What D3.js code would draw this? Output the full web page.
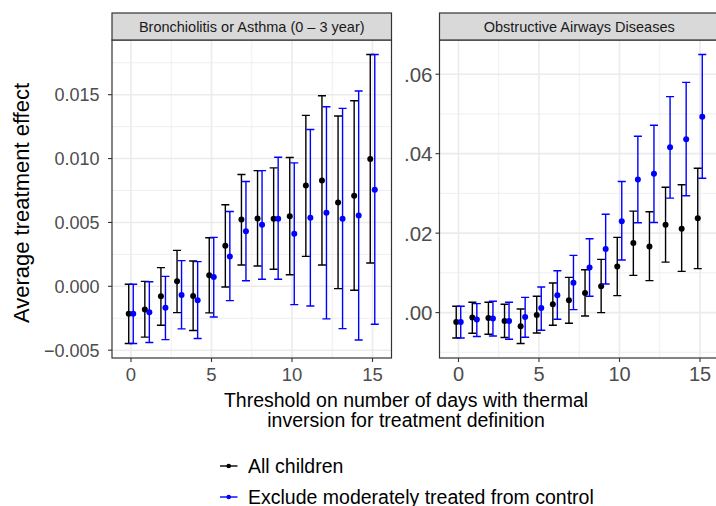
<!DOCTYPE html>
<html>
<head>
<meta charset="utf-8">
<script src="https://cdn.jsdelivr.net/npm/d3@7"></script>
<style>
  html, body { margin: 0; padding: 0; background: #fff; }
  svg { display: block; }
  text { font-family: "Liberation Sans", Arial, Helvetica, sans-serif; }
</style>
</head>
<body>
<svg id="chart" width="716" height="506"></svg>
<script>
// ---------------- data ----------------
const thresholds = [0,1,2,3,4,5,6,7,8,9,10,11,12,13,14,15];
const seriesNames = ["All children", "Exclude moderately treated from control"];
const seriesColors = ["#000000", "#0000FF"];
const panelTitles = ["Bronchiolitis or Asthma (0 \u2013 3 year)", "Obstructive Airways Diseases"];

// Bronchiolitis or Asthma (0-3 year)
const bronchAllEst  = [-0.00214,-0.00182,-0.00078,0.00039,-0.00076,0.00086,0.00318,0.00523,0.00531,0.00529,0.00549,0.00789,0.00828,0.00656,0.00708,0.00997];
const bronchAllLo   = [-0.00448,-0.00398,-0.00305,-0.00206,-0.00346,-0.00208,-0.00005,0.00167,0.00159,0.00133,0.00091,0.00234,0.00167,-0.00018,-0.00031,0.00182];
const bronchAllHi   = [0.00016,0.00039,0.00146,0.00281,0.00198,0.00380,0.00638,0.00875,0.00906,0.00927,0.01008,0.01338,0.01492,0.01333,0.01453,0.01815];
const bronchExclEst = [-0.00214,-0.00203,-0.00167,-0.00068,-0.00109,0.00073,0.00234,0.00432,0.00482,0.00529,0.00412,0.00536,0.00576,0.00529,0.00555,0.00755];
const bronchExclLo  = [-0.00448,-0.00440,-0.00417,-0.00333,-0.00409,-0.00240,-0.00112,0.00044,0.00055,0.00055,-0.00143,-0.00154,-0.00255,-0.00331,-0.00420,-0.00297];
const bronchExclHi  = [0.00016,0.00036,0.00078,0.00201,0.00193,0.00383,0.00586,0.00820,0.00906,0.01010,0.00966,0.01227,0.01406,0.01393,0.01529,0.01815];

// Obstructive Airways Diseases
const obstrAllEst  = [-0.00236,-0.00126,-0.00136,-0.00211,-0.00344,-0.00060,0.00209,0.00309,0.00493,0.00661,0.01163,0.01749,0.01666,0.02211,0.02110,0.02377];
const obstrAllLo   = [-0.00638,-0.00520,-0.00545,-0.00628,-0.00779,-0.00512,-0.00319,-0.00269,-0.00085,0.00000,0.00427,0.00937,0.00804,0.01271,0.01038,0.01106];
const obstrAllHi   = [0.00158,0.00259,0.00259,0.00209,0.00091,0.00410,0.00744,0.00887,0.01080,0.01339,0.01892,0.02553,0.02538,0.03156,0.03216,0.03633];
const obstrExclEst = [-0.00236,-0.00176,-0.00151,-0.00211,-0.00110,0.00116,0.00435,0.00754,0.01138,0.01598,0.02302,0.03349,0.03492,0.04161,0.04362,0.04932];
const obstrExclLo  = [-0.00640,-0.00603,-0.00588,-0.00671,-0.00620,-0.00445,-0.00168,0.00075,0.00410,0.00719,0.01322,0.02261,0.02269,0.02880,0.02940,0.03382];
const obstrExclHi  = [0.00160,0.00226,0.00284,0.00259,0.00384,0.00644,0.01055,0.01440,0.01859,0.02477,0.03300,0.04437,0.04714,0.05435,0.05794,0.06497];

const xTicks = [0,5,10,15];
const leftYTicks = [-0.005, 0, 0.005, 0.010, 0.015];
const leftYMinor = [-0.0025, 0.0025, 0.0075, 0.0125, 0.0175];
const rightYTicks = [0, 0.02, 0.04, 0.06];
const rightYMinor = [-0.01, 0.01, 0.03, 0.05];
const xMinor = [2.5, 7.5, 12.5];

const xTitleLines = ["Threshold on number of days with thermal", "inversion for treatment definition"];
const yTitle = "Average treatment effect";

// ---------------- layout ----------------
const svg = d3.select("#chart");
const DODGE = 0.14, CAPW = 0.25;
const stripTop = 13, panelTop = 40, panelBottom = 358;

const panels = [
  { x0: 112, x1: 391.5, title: panelTitles[0],
    series: [
      {est: bronchAllEst, lo: bronchAllLo, hi: bronchAllHi},
      {est: bronchExclEst, lo: bronchExclLo, hi: bronchExclHi}],
    yTicks: leftYTicks, yMinor: leftYMinor,
    fmt: v => (v < 0 ? "\u2212" : "") + d3.format(".3f")(Math.abs(v)),
    tickFont: 18, labelEnd: 99.5, xTickFont: 18.5 },
  { x0: 439.5, x1: 719, title: panelTitles[1],
    series: [
      {est: obstrAllEst, lo: obstrAllLo, hi: obstrAllHi},
      {est: obstrExclEst, lo: obstrExclLo, hi: obstrExclHi}],
    yTicks: rightYTicks, yMinor: rightYMinor,
    fmt: v => d3.format(".2f")(v).replace(/^0/, "").replace(/^-0/, "-"),
    tickFont: 20.5, labelEnd: 432.5, xTickFont: 20 }
];

const xlo = d3.min(thresholds) - DODGE - CAPW, xhi = d3.max(thresholds) + DODGE + CAPW;
const xpad = 0.05 * (xhi - xlo);

panels.forEach(p => {
  const x = d3.scaleLinear().domain([xlo - xpad, xhi + xpad]).range([p.x0, p.x1]);
  const ymin = d3.min(p.series, s => d3.min(s.lo));
  const ymax = d3.max(p.series, s => d3.max(s.hi));
  const ypad = 0.05 * (ymax - ymin);
  const y = d3.scaleLinear().domain([ymin - ypad, ymax + ypad]).range([panelBottom, panelTop]);

  const g = svg.append("g");
  g.append("rect").attr("x", p.x0).attr("y", panelTop).attr("width", p.x1 - p.x0)
    .attr("height", panelBottom - panelTop).attr("fill", "#fff");

  // minor grid
  g.selectAll(".ymin").data(p.yMinor.filter(v => y(v) > panelTop && y(v) < panelBottom)).join("line")
    .attr("x1", p.x0).attr("x2", p.x1).attr("y1", d => y(d)).attr("y2", d => y(d))
    .attr("stroke", "#EBEBEB").attr("stroke-width", 0.8);
  g.selectAll(".xmin").data(xMinor).join("line")
    .attr("x1", d => x(d)).attr("x2", d => x(d)).attr("y1", panelTop).attr("y2", panelBottom)
    .attr("stroke", "#EBEBEB").attr("stroke-width", 0.8);
  // major grid
  g.selectAll(".ymaj").data(p.yTicks).join("line")
    .attr("x1", p.x0).attr("x2", p.x1).attr("y1", d => y(d)).attr("y2", d => y(d))
    .attr("stroke", "#EBEBEB").attr("stroke-width", 1.6);
  g.selectAll(".xmaj").data(xTicks).join("line")
    .attr("x1", d => x(d)).attr("x2", d => x(d)).attr("y1", panelTop).attr("y2", panelBottom)
    .attr("stroke", "#EBEBEB").attr("stroke-width", 1.6);

  // series
  p.series.forEach((s, si) => {
    const off = si === 0 ? -DODGE : DODGE;
    const col = seriesColors[si];
    const sg = g.append("g");
    thresholds.forEach((t, i) => {
      const cx = x(t + off);
      const xl = x(t + off - CAPW), xr = x(t + off + CAPW);
      const path = d3.path();
      path.moveTo(xl, y(s.hi[i])); path.lineTo(xr, y(s.hi[i]));
      path.moveTo(cx, y(s.hi[i])); path.lineTo(cx, y(s.lo[i]));
      path.moveTo(xl, y(s.lo[i])); path.lineTo(xr, y(s.lo[i]));
      sg.append("path").attr("d", path.toString()).attr("fill", "none")
        .attr("stroke", col).attr("stroke-width", 1.4);
    });
    sg.selectAll("circle").data(thresholds).join("circle")
      .attr("cx", (t) => x(t + off)).attr("cy", (t, i) => y(s.est[i]))
      .attr("r", 3).attr("fill", col);
  });

  // border
  g.append("rect").attr("x", p.x0).attr("y", panelTop).attr("width", p.x1 - p.x0)
    .attr("height", panelBottom - panelTop).attr("fill", "none")
    .attr("stroke", "#333333").attr("stroke-width", 1.2);
  // strip
  g.append("rect").attr("x", p.x0).attr("y", stripTop).attr("width", p.x1 - p.x0)
    .attr("height", panelTop - stripTop).attr("fill", "#D9D9D9")
    .attr("stroke", "#333333").attr("stroke-width", 1.2);
  g.append("text").attr("x", (p.x0 + p.x1) / 2).attr("y", (stripTop + panelTop) / 2)
    .attr("dy", "0.35em").attr("text-anchor", "middle")
    .attr("font-size", 14.5).attr("fill", "#1A1A1A").text(p.title);

  // y ticks
  g.selectAll(".yt").data(p.yTicks).join("line")
    .attr("x1", p.x0 - 4).attr("x2", p.x0).attr("y1", d => y(d)).attr("y2", d => y(d))
    .attr("stroke", "#333333").attr("stroke-width", 1.1);
  g.selectAll(".ytl").data(p.yTicks).join("text")
    .attr("x", p.labelEnd).attr("y", d => y(d)).attr("dy", "0.36em")
    .attr("text-anchor", "end").attr("font-size", p.tickFont).attr("fill", "#4D4D4D")
    .text(p.fmt);
  // x ticks
  g.selectAll(".xt").data(xTicks).join("line")
    .attr("x1", d => x(d)).attr("x2", d => x(d)).attr("y1", panelBottom).attr("y2", panelBottom + 4)
    .attr("stroke", "#333333").attr("stroke-width", 1.1);
  g.selectAll(".xtl").data(xTicks).join("text")
    .attr("x", d => x(d)).attr("y", 381)
    .attr("text-anchor", "middle").attr("font-size", p.xTickFont).attr("fill", "#4D4D4D")
    .text(d => d);
});

// axis titles
svg.append("text").attr("x", 406).attr("y", 406.5).attr("text-anchor", "middle")
  .attr("font-size", 19.5).attr("fill", "#000").text(xTitleLines[0]);
svg.append("text").attr("x", 406).attr("y", 426.5).attr("text-anchor", "middle")
  .attr("font-size", 19.5).attr("fill", "#000").text(xTitleLines[1]);
svg.append("text").attr("transform", "translate(29,203) rotate(-90)")
  .attr("text-anchor", "middle").attr("font-size", 22).attr("fill", "#000").text(yTitle);

// legend
const legRows = [466, 497];
seriesNames.forEach((name, i) => {
  const lg = svg.append("g");
  lg.append("line").attr("x1", 220).attr("x2", 237.5).attr("y1", legRows[i]).attr("y2", legRows[i])
    .attr("stroke", seriesColors[i]).attr("stroke-width", 1.4);
  lg.append("circle").attr("cx", 228.7).attr("cy", legRows[i]).attr("r", 2.3).attr("fill", seriesColors[i]);
  lg.append("text").attr("x", 248).attr("y", legRows[i] + 6.5)
    .attr("font-size", 19.5).attr("fill", "#000").text(name);
});
</script>
</body>
</html>
